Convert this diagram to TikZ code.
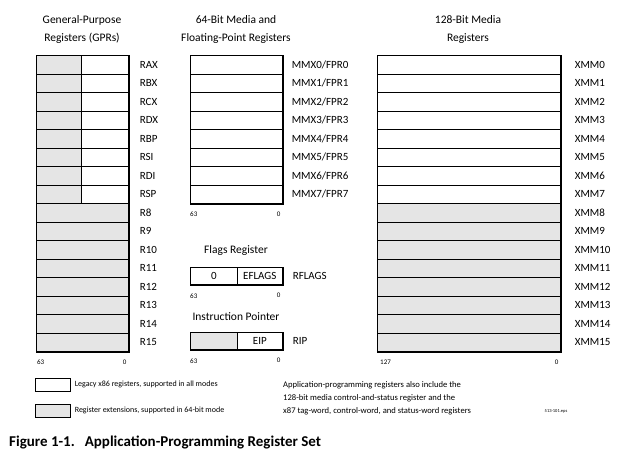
\documentclass[tikz,border=0pt]{standalone}
\usepackage{fontspec}
\setmainfont{Carlito}
\usetikzlibrary{positioning}
\definecolor{extgray}{gray}{0.9}

\begin{document}
\begin{tikzpicture}[
  x=1pt,y=-1pt,
  reg/.style={draw,line width=0.6pt,anchor=north west,inner sep=0pt,
    minimum height=18.5pt,fill=white,font=\fontsize{11}{13}\selectfont},
  ext/.style={reg,fill=extgray},
  regname/.style={anchor=west,inner sep=0pt,text height=7pt,text depth=0pt,
    font=\fontsize{11}{13}\selectfont},
  bit/.style={inner sep=0pt,font=\fontsize{7}{8}\selectfont},
  head/.style={align=center,font=\fontsize{11.5}{18}\selectfont},
  shade/.style={line width=1.8pt},
  note/.style={anchor=west,inner sep=0pt,align=left,font=\fontsize{8}{13}\selectfont},
]
  \useasboundingbox (0,0) rectangle (629,463);

  % headings
  \node[head] (gpr-head) at (82,29) {General-Purpose\\Registers (GPRs)};
  \node[head] (mmx-head) at (236,29) {64-Bit Media and\\Floating-Point Registers};
  \node[head] (xmm-head) at (468,29) {128-Bit Media\\Registers};

  % general-purpose registers
  \foreach \i in {0,...,15}
    \node[ext,minimum width=92pt] (gpr\i) at (36,55+18.5*\i) {};
  \foreach \i in {0,...,7}
    \node[reg,minimum width=47pt] (gprlo\i) at (81,55+18.5*\i) {};
  \foreach \i/\r in {0/RAX,1/RBX,2/RCX,3/RDX,4/RBP,5/RSI,6/RDI,7/RSP,
      8/R8,9/R9,10/R10,11/R11,12/R12,13/R13,14/R14,15/R15}
    \node[regname,right=11pt of gpr\i] (gprname\i) {\r};
  \draw[shade] (gpr0.north east) -- (gpr15.south east) -- (gpr15.south west);
  \node[bit,below right=8pt and 1pt of gpr15.south west] (gpr-msb) {63};
  \node[bit,below left=8pt and 2pt of gpr15.south east] (gpr-lsb) {0};

  % 64-bit media registers
  \foreach \i in {0,...,7} {
    \node[reg,minimum width=92pt] (mmx\i) at (190,55+18.5*\i) {};
    \node[regname,right=9pt of mmx\i] (mmxname\i) {MMX\i/FPR\i};
  }
  \draw[shade] (mmx0.north east) -- (mmx7.south east) -- (mmx7.south west);
  \node[bit,below right=8pt and 0pt of mmx7.south west] (mmx-msb) {63};
  \node[bit,below left=8pt and 2pt of mmx7.south east] (mmx-lsb) {0};

  % flags register
  \node[head] (flags-head) at (236,250) {Flags Register};
  \node[reg,minimum width=47pt,minimum height=17.5pt] (rflags-hi) at (190,267) {0};
  \node[reg,minimum width=45pt,minimum height=17.5pt] (rflags-lo) at (237,267) {EFLAGS};
  \draw[shade] (rflags-lo.north east) -- (rflags-lo.south east) -- (rflags-hi.south west);
  \node[regname,right=10pt of rflags-lo] (rflags-name) {RFLAGS};
  \node[bit,below right=8pt and 0pt of rflags-hi.south west] (rflags-msb) {63};
  \node[bit,below left=8pt and 2pt of rflags-lo.south east] (rflags-lsb) {0};

  % instruction pointer
  \node[head] (rip-head) at (236,317) {Instruction Pointer};
  \node[ext,minimum width=47pt,minimum height=17.5pt] (rip-hi) at (190,332) {};
  \node[reg,minimum width=45pt,minimum height=17.5pt] (rip-lo) at (237,332) {EIP};
  \draw[shade] (rip-lo.north east) -- (rip-lo.south east) -- (rip-hi.south west);
  \node[regname,right=10pt of rip-lo] (rip-name) {RIP};
  \node[bit,below right=8pt and 0pt of rip-hi.south west] (rip-msb) {63};
  \node[bit,below left=8pt and 2pt of rip-lo.south east] (rip-lsb) {0};

  % 128-bit media registers
  \foreach \i in {0,...,7}
    \node[reg,minimum width=183pt] (xmm\i) at (377,55+18.5*\i) {};
  \foreach \i in {8,...,15}
    \node[ext,minimum width=183pt] (xmm\i) at (377,55+18.5*\i) {};
  \foreach \i in {0,...,15}
    \node[regname,right=14pt of xmm\i] (xmmname\i) {XMM\i};
  \draw[shade] (xmm0.north east) -- (xmm15.south east) -- (xmm15.south west);
  \node[bit,below right=8pt and 3pt of xmm15.south west] (xmm-msb) {127};
  \node[bit,below left=8pt and 2pt of xmm15.south east] (xmm-lsb) {0};

  % legend
  \node[reg,minimum width=35pt,minimum height=13pt] (leg-old) at (35,378) {};
  \node[note,right=4pt of leg-old] (leg-old-text) {Legacy x86 registers, supported in all modes};
  \node[ext,minimum width=35pt,minimum height=13pt] (leg-new) at (35,404) {};
  \node[note,right=4pt of leg-new] (leg-new-text) {Register extensions, supported in 64-bit mode};
  \node[note,font=\fontsize{8.6}{13}\selectfont] (app-note) at (283,398)
    {Application-programming registers also include the\\
     128-bit media control-and-status register and the\\
     x87 tag-word, control-word, and status-word registers};
  \node[inner sep=0pt,font=\fontsize{4.5}{5}\selectfont] (eps-name) at (556,411) {513-101.eps};

  % caption
  \node[anchor=west,inner sep=0pt,font=\bfseries\fontsize{15}{17}\selectfont] (caption)
    at (9,442) {Figure 1-1.\hspace{10pt}Application-Programming Register Set};
\end{tikzpicture}
\end{document}
